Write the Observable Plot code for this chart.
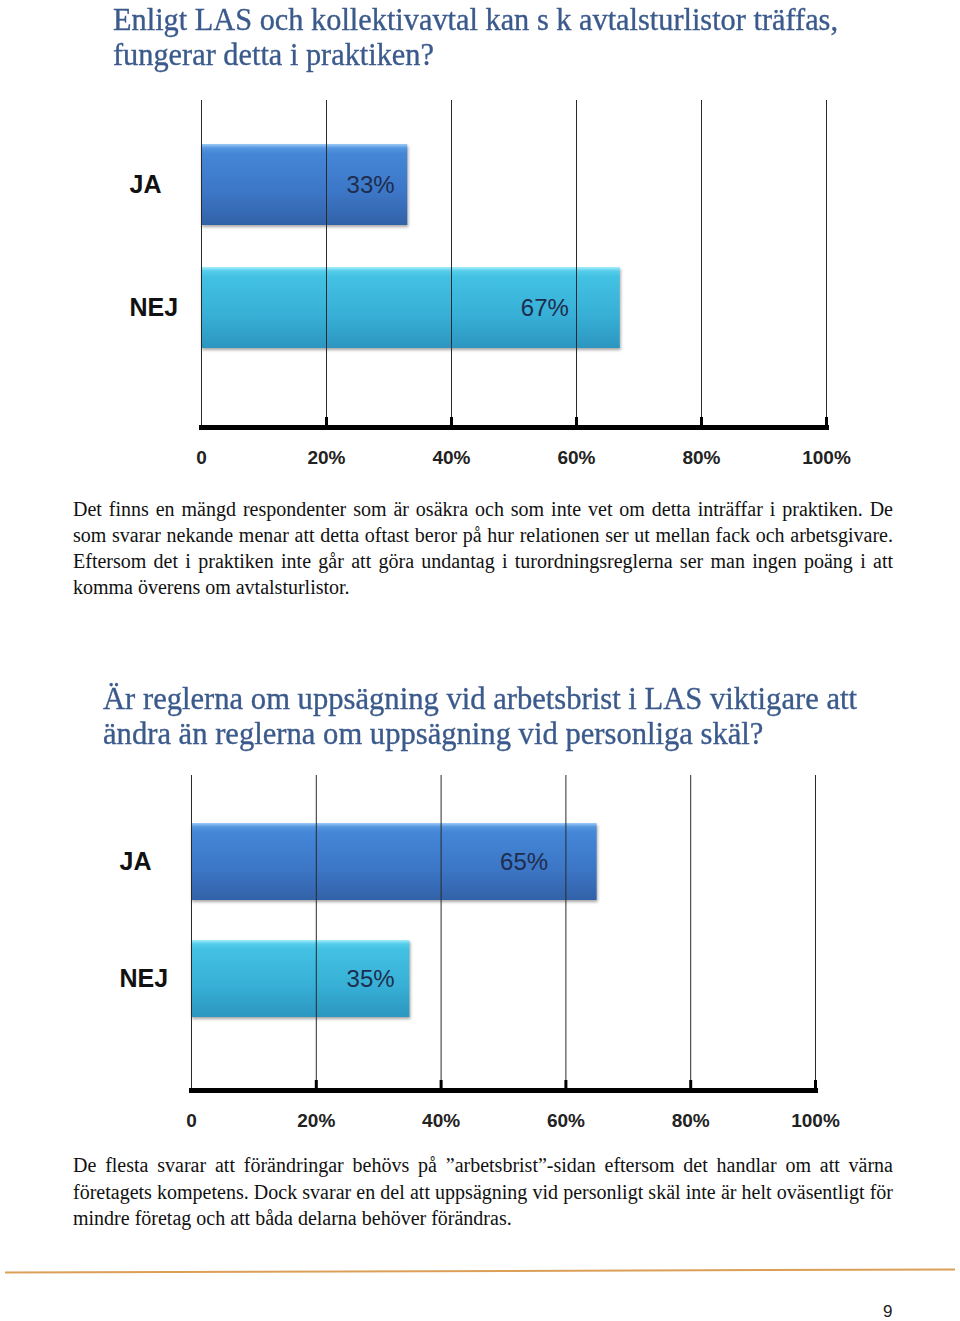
<!DOCTYPE html>
<html>
<head>
<meta charset="utf-8">
<script src="https://cdn.jsdelivr.net/npm/d3@7"></script>
<script src="https://cdn.jsdelivr.net/npm/@observablehq/plot@0.6"></script>
<style>
html, body { margin: 0; padding: 0; background: #fff; }
#page { position: relative; width: 960px; height: 1321px; overflow: hidden; background: #fff; }
.title { position: absolute; font-family: "Liberation Serif", "Times New Roman", serif; font-size: 31px; line-height: 35px; color: #3b5a8c; -webkit-text-stroke: 0.35px #3b5a8c; }
.title .tl { white-space: nowrap; width: max-content; transform-origin: 0 0; }
.para { position: absolute; left: 73px; width: 820px; font-family: "Liberation Serif", "Times New Roman", serif; font-size: 20px; line-height: 26.2px; color: #111; }
.para .ln { white-space: nowrap; width: max-content; }
.chart { position: absolute; left: 0; }
g[aria-label="bar"] rect { filter: drop-shadow(1px 2px 1.5px rgba(0,0,0,0.35)); }
#rule { position: absolute; left: 5px; top: 1270px; width: 950px; height: 2px; background: #dc9f58; transform: rotate(-0.18deg); }
#pageno { position: absolute; left: 883px; top: 1302px; font-family: "Liberation Sans", Arial, sans-serif; font-size: 17px; color: #222; }
</style>
</head>
<body>
<div id="page"></div>
<script>
// ---------- data ----------
const chart1Title = ["Enligt LAS och kollektivavtal kan s k avtalsturlistor träffas,", "fungerar detta i praktiken?"];
const chart1Categories = ["JA", "NEJ"];
const chart1Values = [33, 67];

const chart2Title = ["Är reglerna om uppsägning vid arbetsbrist i LAS viktigare att", "ändra än reglerna om uppsägning vid personliga skäl?"];
const chart2Categories = ["JA", "NEJ"];
const chart2Values = [65, 35];

const tickValues = [0, 20, 40, 60, 80, 100];
const tickLabels = ["0", "20%", "40%", "60%", "80%", "100%"];

const para1 = [
  "Det finns en mängd respondenter som är osäkra och som inte vet om detta inträffar i praktiken. De",
  "som svarar nekande menar att detta oftast beror på hur relationen ser ut mellan fack och arbetsgivare.",
  "Eftersom det i praktiken inte går att göra undantag i turordningsreglerna ser man ingen poäng i att",
  "komma överens om avtalsturlistor."
];
const para2 = [
  "De flesta svarar att förändringar behövs på ”arbetsbrist”-sidan eftersom det handlar om att värna",
  "företagets kompetens. Dock svarar en del att uppsägning vid personligt skäl inte är helt oväsentligt för",
  "mindre företag och att båda delarna behöver förändras."
];
const pageNumber = "9";

// ---------- helpers ----------
const page = document.getElementById("page");

function addTitle(lines, left, top, targetWidth) {
  const div = document.createElement("div");
  div.className = "title";
  div.style.left = left + "px";
  div.style.top = top + "px";
  const els = lines.map(t => {
    const d = document.createElement("div");
    d.className = "tl";
    d.textContent = t;
    div.appendChild(d);
    return d;
  });
  page.appendChild(div);
  const w = els[0].getBoundingClientRect().width;
  const s = targetWidth / w;
  els.forEach(e => e.style.transform = `scaleX(${s})`);
}

function addPara(lines, top) {
  const div = document.createElement("div");
  div.className = "para";
  div.style.top = top + "px";
  const els = lines.map(t => {
    const d = document.createElement("div");
    d.className = "ln";
    d.textContent = t;
    div.appendChild(d);
    return d;
  });
  page.appendChild(div);
  els.forEach((e, i) => {
    if (i === els.length - 1) return;
    const w = e.getBoundingClientRect().width;
    const n = (e.textContent.match(/ /g) || []).length;
    e.style.wordSpacing = ((820 - w) / n) + "px";
  });
}

function gradientDefs(ids) {
  const ns = "http://www.w3.org/2000/svg";
  const defs = document.createElementNS(ns, "defs");
  const specs = [
    [[0, "#9ccbf7"], [0.05, "#5596e0"], [0.12, "#4586d7"], [0.6, "#3c76c6"], [1, "#3262a8"]],
    [[0, "#a6eefc"], [0.05, "#55cdeb"], [0.12, "#43c1e3"], [0.6, "#37afd6"], [1, "#2c96bf"]]
  ];
  ids.forEach((id, i) => {
    const g = document.createElementNS(ns, "linearGradient");
    g.setAttribute("id", id);
    g.setAttribute("x1", "0"); g.setAttribute("y1", "0");
    g.setAttribute("x2", "0"); g.setAttribute("y2", "1");
    specs[i].forEach(([o, c]) => {
      const s = document.createElementNS(ns, "stop");
      s.setAttribute("offset", o);
      s.setAttribute("stop-color", c);
      g.appendChild(s);
    });
    defs.appendChild(g);
  });
  return defs;
}

function addChart({categories, values, gradIds, top, height, marginLeft, marginRight, marginTop, marginBottom, yRange}) {
  const rows = categories.map((c, i) => ({cat: c, value: values[i]}));
  const plot = Plot.plot({
    width: 960,
    height,
    marginLeft, marginRight, marginTop, marginBottom,
    style: {background: "transparent", fontFamily: "'Liberation Sans', Arial, sans-serif", overflow: "visible"},
    x: {domain: [0, 100], label: null},
    y: {domain: categories, range: yRange, paddingInner: 0.34, paddingOuter: 0.17, align: 0.5, label: null},
    marks: [
      () => gradientDefs(gradIds),
      ...rows.map((r, i) => Plot.barX([r], {x: "value", y: "cat", fill: `url(#${gradIds[i]})`})),
      Plot.ruleX(tickValues, {stroke: "#2a2a2a", strokeWidth: 1}),
      Plot.frame({anchor: "bottom", stroke: "#000", strokeWidth: 5}),
      Plot.axisX(tickValues.slice(1), {tickSize: -10, strokeWidth: 3, stroke: "#000", fill: "none", label: null}),
      Plot.axisX(tickValues, {tickSize: 0, tickPadding: 23, tickFormat: d => tickLabels[tickValues.indexOf(d)],
        fontSize: 19, fontWeight: "bold", fill: "#222", label: null}),
      Plot.axisY({tickSize: 0, tickPadding: 72, textAnchor: "start", fontSize: 25, fontWeight: "bold", fill: "#111", label: null}),
      Plot.text(rows, {x: d => d.value * 0.82, y: "cat", text: d => d.value + "%", fontSize: 24, fill: "#1e2d4d"})
    ]
  });
  plot.classList.add("chart");
  plot.style.position = "absolute";
  plot.style.left = "0px";
  plot.style.top = top + "px";
  page.appendChild(plot);
}

// ---------- page ----------
addTitle(chart1Title, 113, 1.5, 725);
addChart({
  categories: chart1Categories, values: chart1Values, gradIds: ["g1a", "g1b"],
  top: 80, height: 400, marginLeft: 201, marginRight: 134, marginTop: 20, marginBottom: 53,
  yRange: [43.5, 289.5]
});
addPara(para1, 495.6);

addTitle(chart2Title, 103, 681, 754);
addChart({
  categories: chart2Categories, values: chart2Values, gradIds: ["g2a", "g2b"],
  top: 760, height: 390, marginLeft: 191, marginRight: 145, marginTop: 15, marginBottom: 60,
  yRange: [43.5, 277.5]
});
addPara(para2, 1152.4);

const rule = document.createElement("div");
rule.id = "rule";
page.appendChild(rule);
const pn = document.createElement("div");
pn.id = "pageno";
pn.textContent = pageNumber;
page.appendChild(pn);
</script>
</body>
</html>
